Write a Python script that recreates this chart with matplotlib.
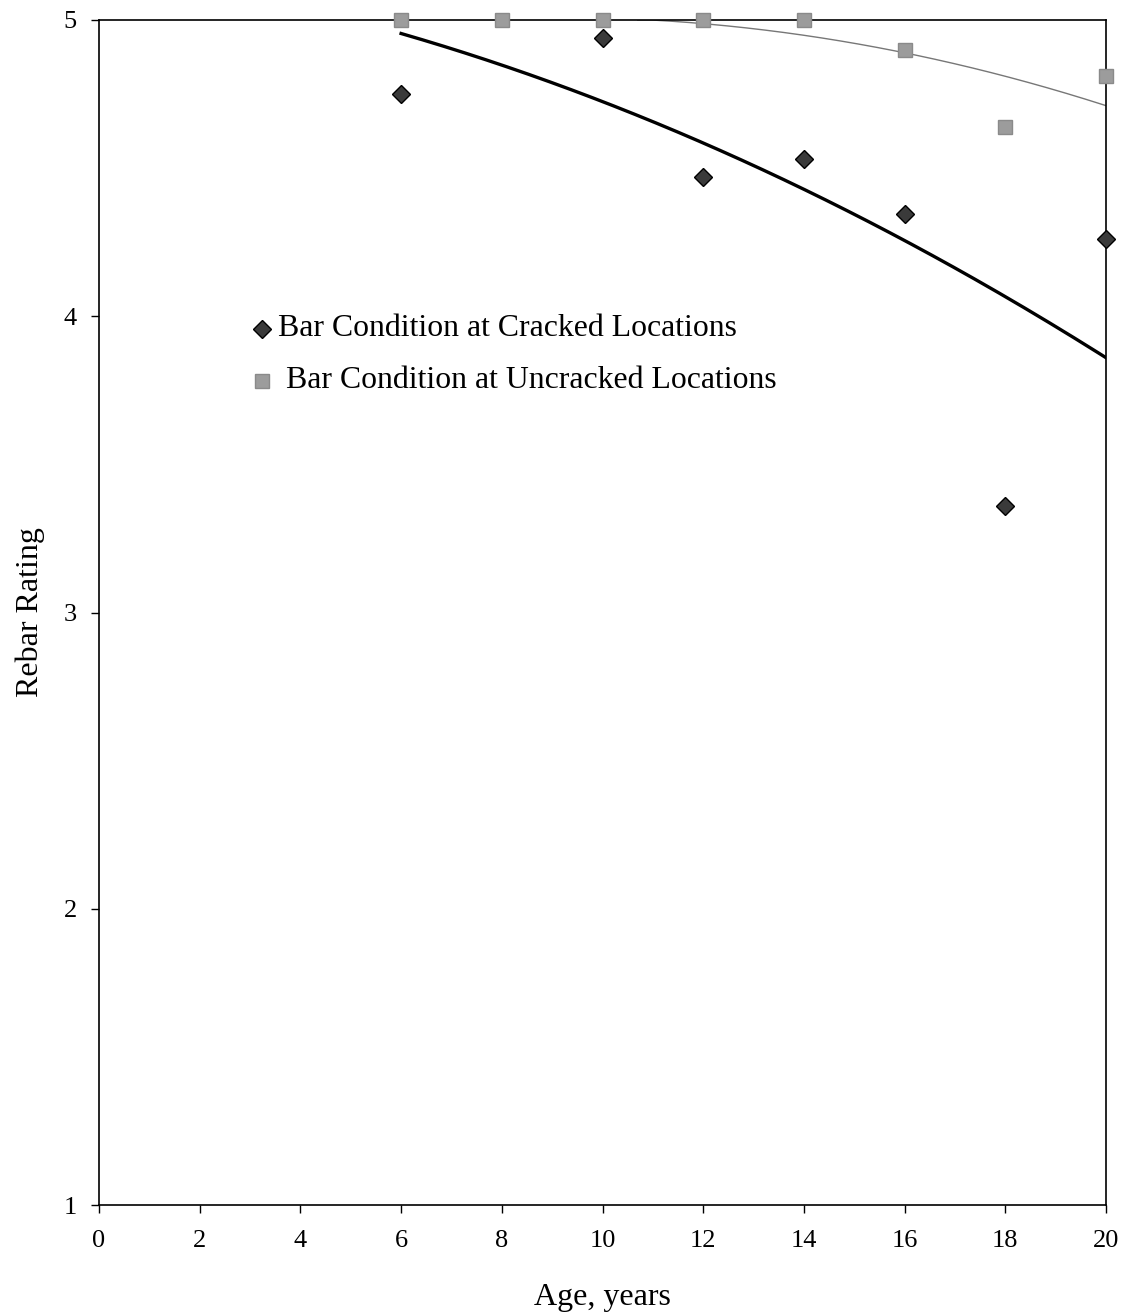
import numpy as np
import matplotlib
matplotlib.use("Agg")
import matplotlib.pyplot as plt

# Data
age_cracked = [6, 10, 12, 14, 16, 18, 20]
rating_cracked = [4.75, 4.94, 4.47, 4.53, 4.345, 3.36, 4.26]

age_uncracked = [6, 8, 10, 12, 14, 16, 18, 20]
rating_uncracked = [5.0, 5.0, 5.0, 5.0, 5.0, 4.90, 4.64, 4.81]

# Trend lines
trend_cracked_x = [6, 8, 10, 12, 14, 16, 18, 20]
trend_cracked_y = [4.957, 4.848, 4.72, 4.584, 4.426, 4.257, 4.078, 3.852]
trend_uncracked_x = [10.7, 14, 16, 18, 20]
trend_uncracked_y = [5.0, 4.955, 4.89, 4.80, 4.716]

x_ticks = [0, 2, 4, 6, 8, 10, 12, 14, 16, 18, 20]
y_ticks = [1, 2, 3, 4, 5]

label_cracked = "Bar Condition at Cracked Locations"
label_uncracked = " Bar Condition at Uncracked Locations"

plt.rcParams['font.family'] = ['Liberation Serif', 'DejaVu Serif']

fig = plt.figure(figsize=(11.24, 13.14), dpi=100)
ax = fig.add_axes([99/1124, 109/1314, 1007/1124, 1185/1314])

# trend lines
c1 = np.polyfit(trend_cracked_x, trend_cracked_y, 2)
xs1 = np.linspace(trend_cracked_x[0], trend_cracked_x[-1], 200)
ax.plot(xs1, np.polyval(c1, xs1), color='black', lw=2.4, zorder=2)

c2 = np.polyfit(trend_uncracked_x, trend_uncracked_y, 2)
xs2 = np.linspace(trend_uncracked_x[0], trend_uncracked_x[-1], 200)
ys2 = np.minimum(np.polyval(c2, xs2), 5.0)
ax.plot(xs2, ys2, color='#777777', lw=1.0, zorder=2)

ax.plot(age_uncracked, rating_uncracked, linestyle='none', marker='s', markersize=10,
        markerfacecolor='#9c9c9c', markeredgecolor='#8a8a8a', clip_on=False, zorder=3)
ax.plot(age_cracked, rating_cracked, linestyle='none', marker='D', markersize=9,
        markerfacecolor='#3a3a3a', markeredgecolor='black', clip_on=False, zorder=4)

ax.set_xlim(0, 20)
ax.set_ylim(1, 5)
ax.set_xticks(x_ticks)
ax.set_yticks(y_ticks)
ax.tick_params(direction='out', length=6, width=1, labelsize=19)
ax.tick_params(axis='x', pad=12)
ax.tick_params(axis='y', pad=10)
for s in ax.spines.values():
    s.set_linewidth(1.2)

ax.set_xlabel("Age, years", fontsize=23, labelpad=22)
ax.set_ylabel("Rebar Rating", fontsize=23, labelpad=13)

# manual legend
lx = (262 - 99) / 1007
ax.plot([lx], [(1205 - 329) / 1185], transform=ax.transAxes, marker='D', markersize=9,
        markerfacecolor='#3a3a3a', markeredgecolor='black', linestyle='none', clip_on=False)
ax.text((278 - 99) / 1007, (1205 - 329) / 1185, label_cracked, transform=ax.transAxes,
        fontsize=22.9, va='center', ha='left')
ax.plot([lx], [(1205 - 381) / 1185], transform=ax.transAxes, marker='s', markersize=10,
        markerfacecolor='#9c9c9c', markeredgecolor='#8a8a8a', linestyle='none', clip_on=False)
ax.text((278 - 99) / 1007, (1205 - 381) / 1185, label_uncracked, transform=ax.transAxes,
        fontsize=22.9, va='center', ha='left')

fig.savefig("out.png", dpi=100)
